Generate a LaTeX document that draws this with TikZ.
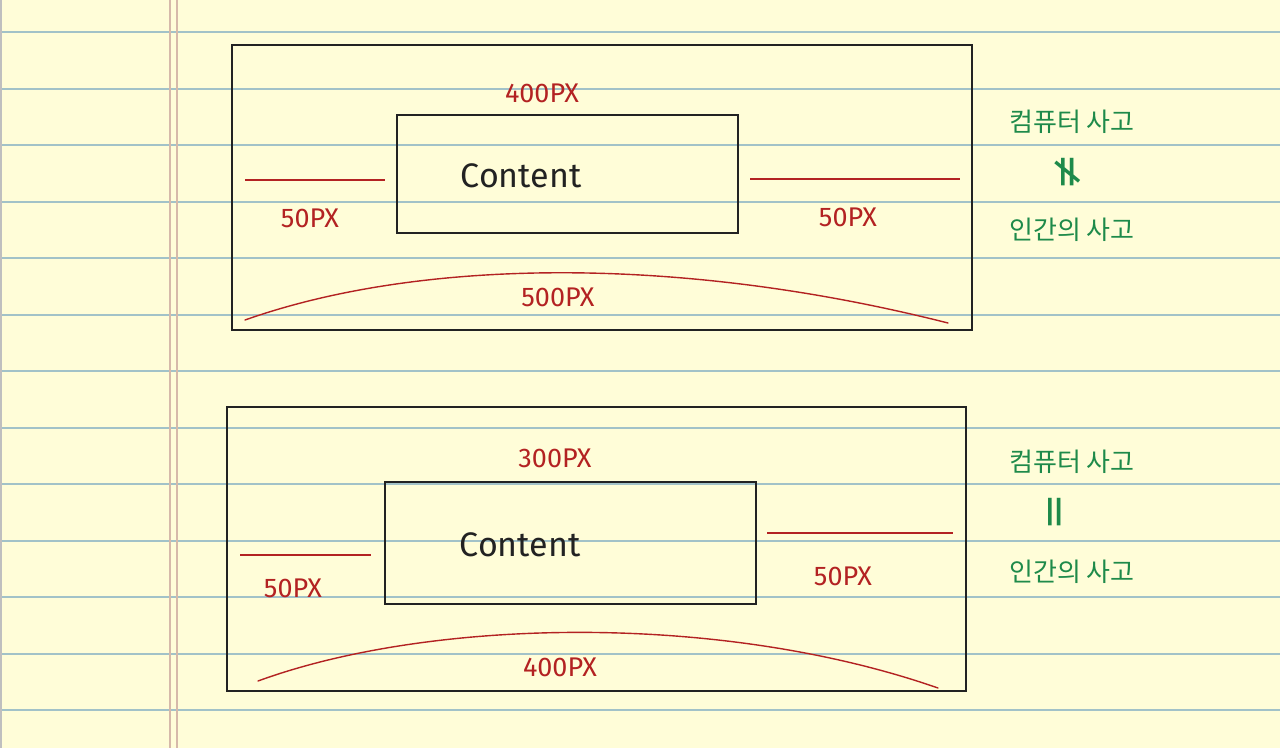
\documentclass[tikz,border=0pt]{standalone}
\usepackage{fontspec}
\setmainfont{Fira Sans}
\newfontfamily\kor{Noto Sans CJK KR}
\newfontfamily\symb{DejaVu Sans}
\definecolor{paper}{HTML}{FFFDD8}
\definecolor{ruled}{HTML}{A2C2C8}
\definecolor{margin}{HTML}{D6B9AA}
\definecolor{pen}{HTML}{B32222}
\definecolor{ink}{HTML}{1E8A4A}
\definecolor{boxline}{HTML}{222222}
\tikzset{
  box/.style={draw=boxline, line width=1.8pt},
  dim/.style={draw=pen, line width=2pt},
  arc/.style={draw=pen, line width=1.4pt, line cap=round},
  size/.style={text=pen, font=\fontsize{27}{27}\selectfont},
  word/.style={text=boxline, font=\fontsize{34}{34}\selectfont},
  think/.style={text=ink, font=\kor\fontsize{26}{26}\selectfont},
  relation/.style={text=ink, rotate=90, font=\symb\fontsize{44}{44}\selectfont}
}

\begin{document}
\begin{tikzpicture}[x=1pt,y=-1pt]

% paper
\fill [paper] (0,0) rectangle (1280,748);
\useasboundingbox (0,0) rectangle (1280,748);
\foreach \k in {0,...,12}
  \draw [ruled, line width=2pt] (0,32+56.5*\k) -- (1280,32+56.5*\k);
\draw [black!25, line width=2pt] (1,0) -- (1,748);
\draw [margin, line width=1.3pt] (170,0) -- (170,748);
\draw [margin, line width=1.3pt] (177,0) -- (177,748);

% first layout
\coordinate (A1) at (232,45);
\coordinate (B1) at (972,330);
\coordinate (C1) at (397,115);
\coordinate (D1) at (738,233);
\coordinate (L1a) at (245,180);
\coordinate (L1b) at (385,180);
\coordinate (R1a) at (750,179);
\coordinate (R1b) at (960,179);
\coordinate (S1) at (245,320);
\coordinate (T1) at (948,323);

\draw [box] (A1) rectangle (B1);
\draw [box] (C1) rectangle (D1);
\draw [dim] (L1a) -- (L1b);
\draw [dim] (R1a) -- (R1b);
\draw [arc] (S1) .. controls (420,258) and (680,255) .. (T1);

\node [size] (w1) at (542,93) {400PX};
\node [word] (c1) at (521,176) {Content};
\node [size] (l1) at (310,218) {50PX};
\node [size] (r1) at (848,217) {50PX};
\node [size] (o1) at (558,297) {500PX};

\node [think] (h1) at (1072,122) {컴퓨터 사고};
\node [relation] (n1) at (1068,172) {≠};
\node [think] (k1) at (1072,230) {인간의 사고};

% second layout
\coordinate (A2) at (227,407);
\coordinate (B2) at (966,691);
\coordinate (C2) at (385,482);
\coordinate (D2) at (756,604);
\coordinate (L2a) at (240,555);
\coordinate (L2b) at (371,555);
\coordinate (R2a) at (767,533);
\coordinate (R2b) at (953,533);
\coordinate (S2) at (258,681);
\coordinate (T2) at (938,688);

\draw [box] (A2) rectangle (B2);
\draw [box] (C2) rectangle (D2);
\draw [dim] (L2a) -- (L2b);
\draw [dim] (R2a) -- (R2b);
\draw [arc] (S2) .. controls (430,618) and (720,612) .. (T2);

\node [size] (w2) at (555,458) {300PX};
\node [word] (c2) at (520,545) {Content};
\node [size] (l2) at (293,588) {50PX};
\node [size] (r2) at (843,576) {50PX};
\node [size] (o2) at (560,667) {400PX};

\node [think] (h2) at (1072,462) {컴퓨터 사고};
\node [relation] (e2) at (1058,512) {=};
\node [think] (k2) at (1072,572) {인간의 사고};
\end{tikzpicture}
\end{document}
